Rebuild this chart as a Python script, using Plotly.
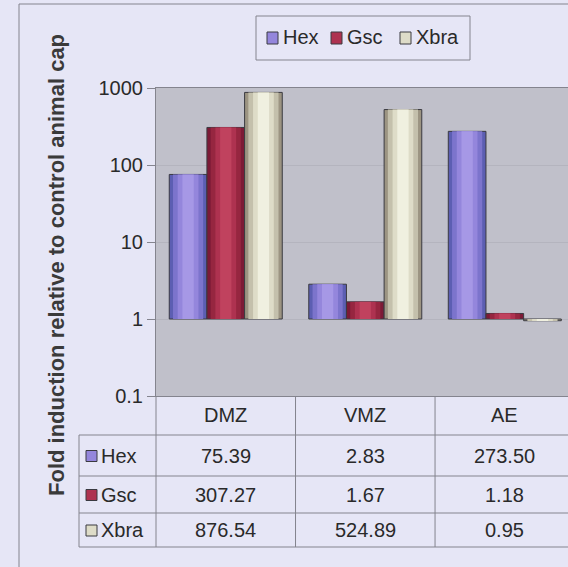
import plotly.graph_objects as go

# Fold induction of marker genes relative to control animal caps
categories = ["DMZ", "VMZ", "AE"]
genes = ["Hex", "Gsc", "Xbra"]
hex_fold = [75.39, 2.83, 273.50]
gsc_fold = [307.27, 1.67, 1.18]
xbra_fold = [876.54, 524.89, 0.95]
y_tick_values = [0.1, 1, 10, 100, 1000]
y_tick_labels = ["0.1", "1", "10", "100", "1000"]

series = {"Hex": hex_fold, "Gsc": gsc_fold, "Xbra": xbra_fold}

# shading ramps: edge -> centre of each cylinder-like bar
shades = {
    "Hex": ["#5C5EB2", "#7C74CC", "#9486DC", "#A698E6"],
    "Gsc": ["#7C1A36", "#962640", "#AE3250", "#C0425E"],
    "Xbra": ["#9C9482", "#C4C0AC", "#DEDCC8", "#F0F0E0"],
}
layer_fracs = [1.0, 0.8, 0.55, 0.3]

W, H = 568, 567
L, R, T, B = 156, 568, 88, 396

BG = "#E6E6F6"
PLOT_BG = "#C0C0CA"
LINE = "#84848E"
TXT = "#2A2A2A"
FONT = "Liberation Sans, Arial, sans-serif"


def px(x):
    return (x - L) / (R - L)


def py(y):
    return (B - y) / (B - T)


fig = go.Figure()

slot = 0.27
for gi, g in enumerate(genes):
    vals = series[g]
    slot_off = -1.5 * slot + gi * slot
    for k, f in enumerate(layer_fracs):
        fig.add_trace(go.Bar(
            x=categories,
            y=[v - 1 for v in vals],
            base=1,
            name=g,
            offset=slot_off + slot * (1 - f) / 2,
            width=slot * f,
            marker=dict(
                color=shades[g][k],
                line=dict(color="#3A3A40" if k == 0 else shades[g][k], width=1 if k == 0 else 0),
            ),
            showlegend=False,
            hoverinfo="skip",
        ))

shapes = []
annotations = []


def hline(y, x0, x1):
    shapes.append(dict(type="line", xref="paper", yref="paper",
                       x0=px(x0), x1=px(x1), y0=py(y), y1=py(y),
                       line=dict(color=LINE, width=1)))


def vline(x, y0, y1):
    shapes.append(dict(type="line", xref="paper", yref="paper",
                       x0=px(x), x1=px(x), y0=py(y0), y1=py(y1),
                       line=dict(color=LINE, width=1)))


# outer chart frame (continues past the right and bottom edges)
hline(4, 19, W + 10)
vline(19, 4, H + 10)

# legend box with swatches
hline(16, 256, 470)
hline(60, 256, 470)
vline(256, 16, 60)
vline(470, 16, 60)
legend_key_x = [267, 331, 400]
for g, kx in zip(genes, legend_key_x):
    shapes.append(dict(type="rect", xref="paper", yref="paper",
                       x0=px(kx), x1=px(kx + 11), y0=py(44), y1=py(32),
                       fillcolor=shades[g][2], line=dict(color="#3A3A40", width=1)))
    annotations.append(dict(x=px(kx + 14), y=py(37), xref="paper", yref="paper",
                            text=g, showarrow=False, xanchor="left", yanchor="middle",
                            font=dict(size=20, color=TXT, family=FONT)))

# data table under the plot
row_lines = [435, 476, 513, 547]
for yl in row_lines:
    hline(yl, 79, W + 10)
vline(L, B, 547)
vline(79, 435, 547)
# column separators at the category boundaries
for i in range(len(categories)):
    shapes.append(dict(type="line", xref="x", yref="paper",
                       x0=i + 0.5, x1=i + 0.5, y0=py(B), y1=py(547),
                       line=dict(color=LINE, width=1)))

cell_font = dict(size=20, color=TXT, family=FONT)

header_y = (B + 435) / 2
for c in categories:
    annotations.append(dict(x=c, y=py(header_y), xref="x", yref="paper",
                            text=c, showarrow=False,
                            xanchor="center", yanchor="middle", font=cell_font))

row_centres = [(row_lines[i] + row_lines[i + 1]) / 2 for i in range(3)]
for gi, g in enumerate(genes):
    yc = row_centres[gi]
    shapes.append(dict(type="rect", xref="paper", yref="paper",
                       x0=px(86), x1=px(97), y0=py(yc + 6), y1=py(yc - 5),
                       fillcolor=shades[g][2], line=dict(color="#3A3A40", width=1)))
    annotations.append(dict(x=px(99), y=py(yc), xref="paper", yref="paper",
                            text=g, showarrow=False,
                            xanchor="left", yanchor="middle", font=cell_font))
    for c, v in zip(categories, series[g]):
        annotations.append(dict(x=c, y=py(yc), xref="x", yref="paper",
                                text=f"{v:.2f}", showarrow=False,
                                xanchor="center", yanchor="middle", font=cell_font))

# rotated axis title
annotations.append(dict(x=px(56), y=py(265), xref="paper", yref="paper",
                        text="<b>Fold induction relative to control animal cap</b>",
                        textangle=-90, showarrow=False,
                        xanchor="center", yanchor="middle",
                        font=dict(size=22, color="#3A3A3A", family=FONT)))

fig.update_layout(
    width=W, height=H,
    margin=dict(l=L, r=W - R, t=T, b=H - B),
    paper_bgcolor=BG,
    plot_bgcolor=PLOT_BG,
    barmode="overlay",
    font=dict(family=FONT, size=20, color=TXT),
    showlegend=False,
    xaxis=dict(range=[-0.5, 2.453], showticklabels=False, ticks="",
               showgrid=False, showline=True, mirror=True,
               linecolor=LINE, linewidth=1, fixedrange=True),
    yaxis=dict(type="log", range=[-1, 3], tickvals=y_tick_values,
               ticktext=y_tick_labels, ticks="outside", ticklen=8,
               tickcolor=LINE, showgrid=True, gridcolor="#B4B4BE",
               showline=True, mirror=True, linecolor=LINE, linewidth=1,
               tickfont=dict(size=20, color=TXT, family=FONT),
               fixedrange=True),
    shapes=shapes,
    annotations=annotations,
)

fig.write_html("out.html")
